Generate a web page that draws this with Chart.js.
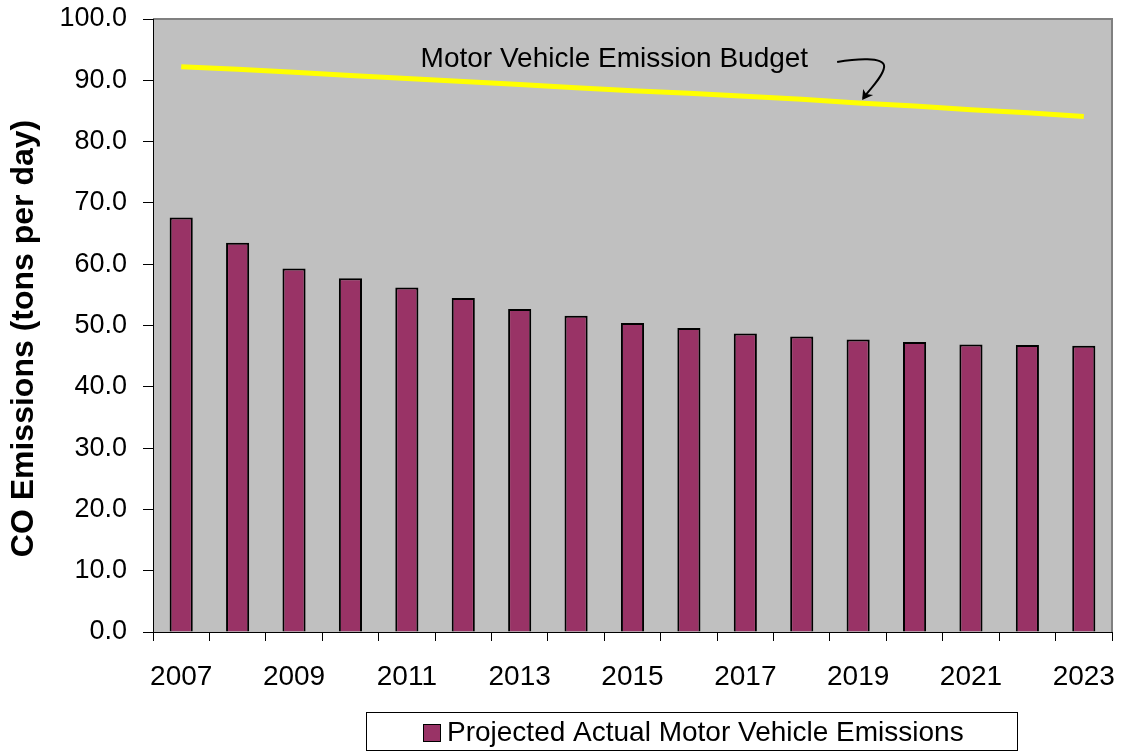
<!DOCTYPE html>
<html>
<head>
<meta charset="utf-8">
<title>CO Emissions</title>
<script src="https://cdn.jsdelivr.net/npm/chart.js@4.4.1/dist/chart.umd.min.js"></script>
<style>
  html, body { margin: 0; padding: 0; background: #fff; }
  #wrap { width: 1123px; height: 751px; position: relative; }
</style>
</head>
<body>
<div id="wrap"><canvas id="chart" width="1123" height="751"></canvas></div>
<script>
const years = ['2007', '2008', '2009', '2010', '2011', '2012', '2013', '2014', '2015',
    '2016', '2017', '2018', '2019', '2020', '2021', '2022', '2023'];
const projectedEmissions = [67.6, 63.5, 59.3, 57.7, 56.2, 54.5, 52.7, 51.6, 50.4,
    49.6, 48.7, 48.2, 47.7, 47.3, 46.9, 46.8, 46.7];
const emissionBudget = [92.2, 91.8, 91.3, 90.8, 90.3, 89.8, 89.3, 88.8, 88.3,
    87.9, 87.4, 86.9, 86.3, 85.8, 85.2, 84.7, 84.1];
const yTicks = [0, 10, 20, 30, 40, 50, 60, 70, 80, 90, 100];

const FONT = '"Liberation Sans", Arial, sans-serif';
const barColor = '#993366';

// grey plot area with the grey frame on top and right
const plotBackground = {
    id: 'plotBackground',
    beforeDraw(chart) {
        const { ctx, chartArea: a } = chart;
        ctx.save();
        ctx.fillStyle = '#c0c0c0';
        ctx.fillRect(a.left, a.top, a.right - a.left, a.bottom - a.top);
        ctx.strokeStyle = '#808080';
        ctx.lineWidth = 2;
        ctx.beginPath();
        ctx.moveTo(a.left, a.top);
        ctx.lineTo(a.right, a.top);
        ctx.lineTo(a.right, a.bottom);
        ctx.stroke();
        ctx.restore();
    }
};

// rotated y title, drawn by hand so it sits where the original does
const yTitle = {
    id: 'yTitle',
    afterDraw(chart) {
        const { ctx, chartArea: a } = chart;
        ctx.save();
        ctx.translate(24, (a.top + a.bottom) / 2 + 13);
        ctx.rotate(-Math.PI / 2);
        ctx.fillStyle = '#000';
        ctx.font = 'bold 32px ' + FONT;
        ctx.textAlign = 'center';
        ctx.textBaseline = 'middle';
        ctx.fillText('CO Emissions (tons per day)', 0, 0);
        ctx.restore();
    }
};

// budget label with its curved arrow, anchored on the 2019 budget point
const budgetNote = {
    id: 'budgetNote',
    afterDatasetsDraw(chart) {
        const { ctx, scales: { x, y } } = chart;
        const i = years.indexOf('2019');
        const tx = x.getPixelForValue(i) + 4;
        const ty = y.getPixelForValue(emissionBudget[i]) - 3;
        ctx.save();
        ctx.fillStyle = '#000';
        ctx.font = '28px ' + FONT;
        ctx.textAlign = 'right';
        ctx.textBaseline = 'middle';
        ctx.fillText('Motor Vehicle Emission Budget', tx - 54, ty - 41);

        ctx.strokeStyle = '#000';
        ctx.lineWidth = 2;
        ctx.beginPath();
        ctx.moveTo(tx - 25, ty - 38);
        ctx.bezierCurveTo(tx - 8, ty - 41, tx + 23, ty - 44, tx + 22, ty - 33);
        ctx.bezierCurveTo(tx + 21, ty - 24, tx + 9, ty - 12, tx + 1, ty - 2);
        ctx.stroke();
        ctx.beginPath();
        ctx.moveTo(tx, ty);
        ctx.lineTo(tx + 1, ty - 11);
        ctx.lineTo(tx + 4, ty - 6);
        ctx.lineTo(tx + 11, ty - 5);
        ctx.closePath();
        ctx.fill();
        ctx.restore();
    }
};

// boxed legend under the axis
const boxedLegend = {
    id: 'boxedLegend',
    afterDraw(chart) {
        const { ctx } = chart;
        const left = 366.5, top = 712.5, w = 651, h = 38;
        ctx.save();
        ctx.fillStyle = '#fff';
        ctx.fillRect(left, top, w, h);
        ctx.strokeStyle = '#000';
        ctx.lineWidth = 1;
        ctx.strokeRect(left, top, w, h);
        ctx.fillStyle = barColor;
        ctx.fillRect(423.5, 724.5, 17, 17);
        ctx.strokeRect(423.5, 724.5, 17, 17);
        ctx.fillStyle = '#000';
        ctx.font = '28px ' + FONT;
        ctx.textAlign = 'left';
        ctx.textBaseline = 'middle';
        ctx.fillText('Projected Actual Motor Vehicle Emissions', 447, 733);
        ctx.restore();
    }
};

new Chart(document.getElementById('chart'), {
    type: 'bar',
    data: {
        labels: years,
        datasets: [
            {
                type: 'line',
                label: 'Motor Vehicle Emission Budget',
                data: emissionBudget,
                borderColor: '#ffff00',
                borderWidth: 5,
                pointRadius: 0,
                tension: 0,
                order: 0
            },
            {
                label: 'Projected Actual Motor Vehicle Emissions',
                data: projectedEmissions,
                backgroundColor: barColor,
                borderColor: '#000',
                borderWidth: 2,
                barPercentage: 0.41,
                categoryPercentage: 1,
                order: 1
            }
        ]
    },
    options: {
        responsive: false,
        animation: false,
        events: [],
        layout: { padding: { top: 19, right: 11, bottom: 39, left: 0 } },
        plugins: {
            legend: { display: false },
            tooltip: { enabled: false }
        },
        scales: {
            x: {
                offset: true,
                grid: { offset: true, drawOnChartArea: false, drawTicks: true, tickLength: 9, color: '#000', lineWidth: 1 },
                border: { color: '#000', width: 1 },
                ticks: {
                    autoSkip: false,
                    maxRotation: 0,
                    color: '#000',
                    padding: 19,
                    font: { family: FONT, size: 28 },
                    callback: (v, i) => (i % 2 === 0 ? years[i] : '')
                },
                afterFit: s => {
                    s.height = 80;
                    s.paddingLeft = 0;
                    s.paddingRight = 0;
                }
            },
            y: {
                min: 0,
                max: 100,
                afterBuildTicks: s => { s.ticks = yTicks.map(v => ({ value: v })); },
                grid: { drawOnChartArea: false, drawTicks: true, tickLength: 10, color: '#000', lineWidth: 1 },
                border: { color: '#000', width: 1 },
                ticks: {
                    color: '#000',
                    padding: 16,
                    font: { family: FONT, size: 27 },
                    callback: v => Number(v).toFixed(1)
                },
                afterFit: s => {
                    s.width = 153;
                    s.paddingTop = 0;
                    s.paddingBottom = 0;
                }
            }
        }
    },
    plugins: [plotBackground, budgetNote, yTitle, boxedLegend]
});
</script>
</body>
</html>
